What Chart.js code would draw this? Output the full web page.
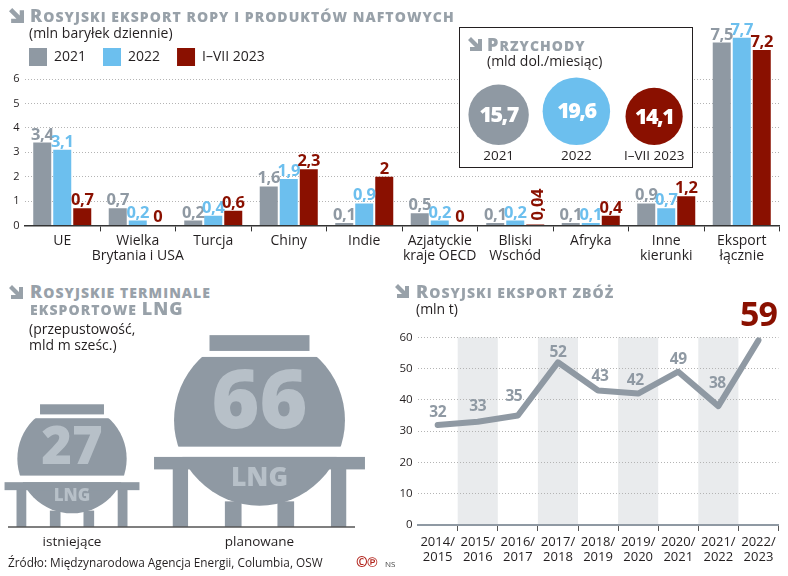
<!DOCTYPE html>
<html lang="pl"><head><meta charset="utf-8">
<script src="https://cdn.jsdelivr.net/npm/chart.js@4/dist/chart.umd.min.js"></script>
<style>
html,body{margin:0;padding:0;background:#fff;overflow:hidden}
#page{position:relative;width:788px;height:576px;background:#fff;font-family:"Open Sans",sans-serif;color:#231f20;overflow:hidden}
canvas{position:absolute}
.t{position:absolute;white-space:nowrap;line-height:1}
.h{font-weight:800;color:#98a1a9;text-transform:uppercase;font-size:14px;letter-spacing:1.05px}
.h b{font-weight:800;font-size:18px}
.s{font-size:14px}
svg{position:absolute;fill:#98a1a9}
#box{position:absolute;left:459px;top:27px;width:232px;height:139px;border:1.5px solid #231f20;background:#fff}
</style></head><body>
<div id="page">
<canvas id="oil" style="left:0;top:0" width="788" height="270"></canvas>
<div id="box"></div>
<canvas id="rev" style="left:459px;top:70px" width="234" height="97"></canvas>
<canvas id="lng" style="left:0;top:330px" width="390" height="225"></canvas>
<canvas id="grain" style="left:385px;top:295px" width="403" height="281"></canvas>

<svg style="left:9px;top:8px" width="15" height="15" viewBox="0 0 14 14"><polygon points="0,3 3,0 10,7 10,2 14,2 14,14 2,14 2,10 7,10"/></svg>
<div class="t h" style="left:30px;top:6px"><b>R</b>osyjski eksport ropy i produktów naftowych</div>
<div class="t s" style="left:29px;top:26px">(mln baryłek dziennie)</div>

<svg style="left:468px;top:37px" width="14" height="14" viewBox="0 0 14 14"><polygon points="0,3 3,0 10,7 10,2 14,2 14,14 2,14 2,10 7,10"/></svg>
<div class="t h" style="left:487px;top:35px"><b>P</b>rzychody</div>
<div class="t s" style="left:487px;top:54px">(mld dol./miesiąc)</div>

<svg style="left:9px;top:285px" width="14" height="14" viewBox="0 0 14 14"><polygon points="0,3 3,0 10,7 10,2 14,2 14,14 2,14 2,10 7,10"/></svg>
<div class="t h" style="left:30px;top:282px"><b>R</b>osyjskie terminale</div>
<div class="t h" style="left:30px;top:299px">eksportowe <b>LNG</b></div>
<div class="t s" style="left:29px;top:322px">(przepustowość,</div>
<div class="t s" style="left:29px;top:338px">mld m sześc.)</div>

<svg style="left:395px;top:284px" width="14" height="14" viewBox="0 0 14 14"><polygon points="0,3 3,0 10,7 10,2 14,2 14,14 2,14 2,10 7,10"/></svg>
<div class="t h" style="left:416px;top:282px"><b>R</b>osyjski eksport zbóż</div>
<div class="t s" style="left:416px;top:302px">(mln t)</div>

<div class="t" style="left:8px;top:557px;font-size:11.8px">Źródło: Międzynarodowa Agencja Energii, Columbia, OSW</div>
<div class="t" style="left:356px;top:555px;font-size:14px;font-weight:700;color:#b3261e;letter-spacing:-.5px">©℗</div>
<div class="t" style="left:385px;top:560px;font-size:8px;color:#444">NS</div>
</div>
<script>
// ---------- data ----------
const oilCategories = [["UE"],["Wielka","Brytania i USA"],["Turcja"],["Chiny"],["Indie"],["Azjatyckie","kraje OECD"],["Bliski","Wschód"],["Afryka"],["Inne","kierunki"],["Eksport","łącznie"]];
const oil2021 = [3.4,0.7,0.2,1.6,0.1,0.5,0.1,0.1,0.9,7.5];
const oil2022 = [3.1,0.2,0.4,1.9,0.9,0.2,0.2,0.1,0.7,7.7];
const oil2023 = [0.7,0,0.6,2.3,2,0,0.04,0.4,1.2,7.2];
const seriesNames = ["2021","2022","I\u2013VII 2023"];
const revenueValues = [15.7,19.6,14.1];
const lngNames = ["istniejące","planowane"];
const lngValues = [27,66];
const grainYears = [["2014/","2015"],["2015/","2016"],["2016/","2017"],["2017/","2018"],["2018/","2019"],["2019/","2020"],["2020/","2021"],["2021/","2022"],["2022/","2023"]];
const grainValues = [32,33,35,52,43,42,49,38,59];

// ---------- style ----------
const GREY="#8f99a3", BLUE="#6cbfee", RED="#8a1000", INK="#231f20", PALE="#b7c0c8";
const FONT='"Open Sans", sans-serif';
const seriesColors=[GREY,BLUE,RED];
const fmt=v=>String(v).replace('.',',');
const grainLift=[12,15,19,10,14,13,12,23,24], grainShift=[0,0,-4,0,2,-3,0,-1,0];
Chart.defaults.font.family=FONT;
Chart.defaults.animation=false;
Chart.defaults.responsive=false;
Chart.defaults.devicePixelRatio=1;
Chart.defaults.plugins.tooltip.enabled=false;
Chart.defaults.plugins.legend.display=false;
Chart.defaults.layout.autoPadding=false;

// ---------- oil bars ----------
const oilLabels={id:'oilLabels',
 beforeLayout(c){const l=c.legend; if(l&&!l.__p){const f=l.fit;l.fit=function(){f.call(this);this.height=0;};l.__p=1;}},
 afterLayout(c){const l=c.legend; if(l){l.left=12;l.right=450;l.top=31;l.bottom=90;}},
 afterDatasetsDraw(c){const x=c.ctx;
  c.data.datasets.forEach((d,i)=>{c.getDatasetMeta(i).data.forEach((el,j)=>{
    const v=d.data[j];x.save();x.fillStyle=seriesColors[i];x.font='700 16.5px '+FONT;x.letterSpacing='-0.4px';
    if(v>0&&v<0.1){x.translate(el.x+3,el.y-4);x.rotate(-Math.PI/2);x.textAlign='left';x.textBaseline='middle';x.fillText(fmt(v),0,0);}
    else{x.textAlign='center';x.textBaseline='alphabetic';x.fillText(fmt(v),el.x,el.y-3);}
    x.restore();});});}};
new Chart(document.getElementById('oil'),{type:'bar',
 data:{labels:oilCategories,datasets:[oil2021,oil2022,oil2023].map((d,i)=>({label:seriesNames[i],data:d,backgroundColor:seriesColors[i],barPercentage:0.9,categoryPercentage:0.795}))},
 options:{layout:{padding:{left:8,right:8.5,top:30.4,bottom:0}},
  plugins:{legend:{display:true,position:'top',align:'start',labels:{boxWidth:18,boxHeight:18,padding:17,color:INK,font:{size:14}}}},
  scales:{
   y:{min:0,max:8,afterFit(s){s.width=16.5;},border:{display:false,dash:[1,2]},
      grid:{drawTicks:false,tickLength:0,lineWidth:1,color:c=>c.tick&&c.tick.value<=6?'#b4b4b4':'rgba(0,0,0,0)'},
      ticks:{stepSize:1,padding:5,color:INK,font:{size:11},callback:v=>v<=6?v:''}},
   x:{afterFit(s){s.height=44.6;},border:{display:true,color:'#333',width:1.5},
      grid:{offset:true,drawOnChartArea:false,drawTicks:true,tickLength:6,tickColor:c=>(c.index===0||c.index===10)?'rgba(0,0,0,0)':'#333'},
      ticks:{maxRotation:0,autoSkip:false,padding:2,color:INK,font:{size:14,lineHeight:1.1}}}}},
 plugins:[oilLabels]});

// ---------- revenue circles ----------
const revR=v=>7.62*Math.sqrt(v);
new Chart(document.getElementById('rev'),{type:'bubble',
 data:{labels:seriesNames,datasets:[{data:revenueValues.map((v,i)=>({x:seriesNames[i],y:revR(v),r:revR(v)})),backgroundColor:seriesColors,borderWidth:0,clip:false}]},
 options:{layout:{padding:{left:0.75,right:0,top:0,bottom:0}},
  scales:{y:{display:false,min:0,max:75},
   x:{type:'category',offset:true,afterFit(s){s.height=22;},border:{display:false},grid:{display:false,drawTicks:false},ticks:{padding:3,color:INK,font:{size:13.5}}}}},
 plugins:[{id:'revText',afterDatasetsDraw(c){const x=c.ctx;c.getDatasetMeta(0).data.forEach((el,i)=>{x.save();x.fillStyle='#fff';x.font='800 21.5px '+FONT;x.letterSpacing='-1.5px';x.textAlign='center';x.textBaseline='middle';x.fillText(fmt(revenueValues[i]),el.x,el.y+1);x.restore();});}}]});

// ---------- LNG tanks ----------
const lngR=v=>10.52*Math.sqrt(v);
const lngDraw={id:'lngDraw',
 afterDatasetsDraw(c){const x=c.ctx,g=c.chartArea.bottom;
  c.getDatasetMeta(0).data.forEach((el,i)=>{const v=lngValues[i],r=lngR(v),cx=el.x;
   x.save();
   x.fillStyle='#fff';
   x.fillRect(cx-r,g-2.3*r,2*r,0.31*r);              // flat top of the sphere
   x.fillRect(cx-r-1,g-0.94*r,2*r+2,0.12*r);         // gap above the deck
   x.fillStyle=GREY;
   x.fillRect(cx-1.0*0.585*r,g-2.245*r,2*0.585*r,0.185*r);   // cap
   x.fillRect(cx-1.234*r,g-0.82*r,2*1.234*r,0.146*r);        // deck
   [[-1.015,-0.836],[0.836,1.015],[-0.405,-0.21],[0.21,0.405]].forEach(p=>{
     const inner=Math.abs(p[0])<0.5;const top=inner?0.3:0.68;
     x.fillRect(cx+p[0]*r,g-top*r,(p[1]-p[0])*r,top*r);});
   x.fillStyle=PALE;x.textAlign='center';x.textBaseline='middle';
   x.font='800 '+(0.96*r)+'px '+FONT;x.fillText(v,cx,g-1.43*r);
   x.font='800 '+(0.31*r)+'px '+FONT;x.fillText('LNG',cx,g-0.57*r);
   x.restore();});
  x.save();x.strokeStyle='#555';x.lineWidth=1.5;x.beginPath();x.moveTo(8,g);x.lineTo(355,g);x.stroke();x.restore();}};
new Chart(document.getElementById('lng'),{type:'bubble',
 data:{labels:lngNames,datasets:[{data:lngValues.map((v,i)=>({x:lngNames[i],y:1.25*lngR(v),r:lngR(v)})),backgroundColor:GREY,borderWidth:0,clip:false}]},
 options:{layout:{padding:{left:72,right:130.5,top:0,bottom:0}},
  scales:{y:{display:false,min:0,max:197},
   x:{type:'category',offset:false,afterFit(s){s.height=28;},border:{display:false},grid:{display:false,drawTicks:false},ticks:{maxRotation:0,autoSkip:false,padding:7,color:INK,font:{size:13.5}}}}},
 plugins:[lngDraw]});

// ---------- grain line ----------
const grainDecor={id:'grainDecor',
 beforeDraw(c){const x=c.ctx,a=c.chartArea,s=c.scales.x,w=a.width/grainValues.length;x.save();x.fillStyle='#e9ebed';
  grainValues.forEach((_,i)=>{if(i%2===1)x.fillRect(s.getPixelForTick(i)-w/2,a.top,w,a.height);});x.restore();},
 afterDatasetsDraw(c){const x=c.ctx;c.getDatasetMeta(0).data.forEach((el,i)=>{x.save();const last=i===grainValues.length-1;
   x.textAlign='center';x.textBaseline='middle';
   if(last){x.fillStyle=RED;x.font='700 34px '+FONT;x.letterSpacing='-1px';}
   else{x.fillStyle=GREY;x.font='700 15.5px '+FONT;x.letterSpacing='-0.4px';}
   x.fillText(grainValues[i],el.x+grainShift[i],el.y-grainLift[i]);x.restore();});}};
new Chart(document.getElementById('grain'),{type:'line',
 data:{labels:grainYears,datasets:[{data:grainValues,borderColor:GREY,borderWidth:6,tension:0,pointRadius:0,borderJoinStyle:'round',borderCapStyle:'round',clip:false}]},
 options:{layout:{padding:{left:8,right:9.5,top:42.3,bottom:0}},
  scales:{
   y:{min:0,max:60,afterFit(s){s.width=24.6;},border:{display:false,dash:[1,2]},
      grid:{drawTicks:false,tickLength:0,color:'#b4b4b4'},ticks:{stepSize:10,padding:5,color:INK,font:{size:11.5}}},
   x:{offset:true,afterFit(s){s.height=51;},border:{display:true,color:GREY,width:2},
      grid:{offset:true,drawOnChartArea:false,drawTicks:true,tickLength:6,tickColor:c=>(c.index===0)?'rgba(0,0,0,0)':'#555'},
      ticks:{maxRotation:0,autoSkip:false,padding:3,color:INK,font:{size:13,lineHeight:1.2}}}}},
 plugins:[grainDecor]});
</script>
</body></html>
